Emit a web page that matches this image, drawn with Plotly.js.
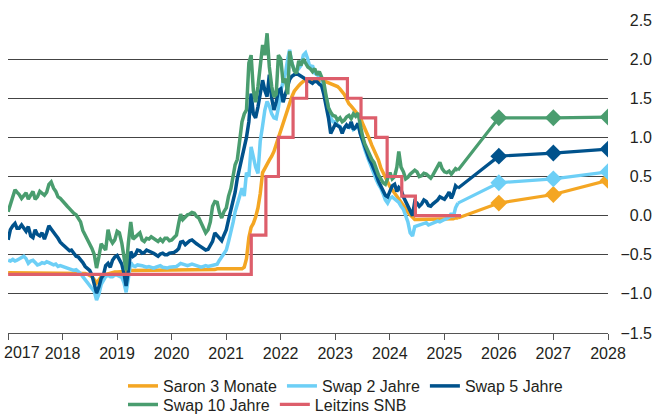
<!DOCTYPE html>
<html>
<head>
<meta charset="utf-8">
<script src="https://cdn.plot.ly/plotly-3.0.1.min.js"></script>
<style>
  html, body { margin: 0; padding: 0; background: #ffffff; }
  #chart { width: 652px; height: 414px; }
</style>
</head>
<body>
<div id="chart"></div>
<script>
// ---------- DATA ----------
// Semi-monthly observation dates (1st and 16th), Jan 2018 .. 1 Apr 2026
const histDates = [];
for (let y = 2018, m = 1; y < 2026 || (y === 2026 && m <= 3);) {
  const mm = String(m).padStart(2, '0');
  histDates.push(y + '-' + mm + '-01', y + '-' + mm + '-16');
  m++; if (m > 12) { m = 1; y++; }
}
histDates.push('2026-04-01');

// Saron 3 Monate (%), one row per year
const saron = [
  -0.73,-0.73,-0.73,-0.73,-0.73,-0.74,-0.74,-0.73,-0.73,-0.73,-0.73,-0.73,-0.73,-0.73,-0.73,-0.73,-0.73,-0.73,-0.73,-0.73,-0.73,-0.73,-0.73,-0.73,
  -0.73,-0.73,-0.73,-0.73,-0.73,-0.73,-0.73,-0.73,-0.73,-0.73,-0.74,-0.75,-0.76,-0.78,-0.82,-0.86,-0.82,-0.78,-0.76,-0.75,-0.74,-0.73,-0.73,-0.72,
  -0.72,-0.72,-0.71,-0.71,-0.72,-0.71,-0.70,-0.70,-0.70,-0.70,-0.70,-0.70,-0.70,-0.70,-0.70,-0.70,-0.69,-0.69,-0.69,-0.69,-0.70,-0.70,-0.70,-0.70,
  -0.70,-0.70,-0.70,-0.70,-0.70,-0.69,-0.69,-0.69,-0.69,-0.69,-0.69,-0.69,-0.69,-0.69,-0.69,-0.69,-0.69,-0.69,-0.69,-0.69,-0.68,-0.68,-0.69,-0.69,
  -0.69,-0.69,-0.69,-0.69,-0.69,-0.69,-0.69,-0.68,-0.66,-0.55,-0.28,-0.15,-0.10,-0.02,0.10,0.28,0.55,0.61,0.65,0.71,0.76,0.82,0.91,1.00,
  1.08,1.17,1.26,1.36,1.44,1.52,1.59,1.63,1.66,1.69,1.72,1.74,1.75,1.75,1.74,1.73,1.73,1.73,1.73,1.72,1.71,1.70,1.68,1.67,
  1.66,1.65,1.62,1.58,1.55,1.49,1.43,1.40,1.37,1.33,1.29,1.26,1.18,1.12,1.05,0.98,0.90,0.84,0.77,0.71,0.61,0.55,0.48,0.43,
  0.37,0.33,0.29,0.25,0.21,0.17,0.14,0.09,0.04,0.01,-0.03,-0.05,-0.05,-0.05,-0.05,-0.04,-0.04,-0.04,-0.04,-0.05,-0.05,-0.05,-0.05,-0.05,
  -0.05,-0.05,-0.05,-0.04,-0.04,-0.03,-0.03
];
// Swap 2 Jahre
const swap2 = [
  -0.57,-0.58,-0.56,-0.58,-0.57,-0.55,-0.54,-0.52,-0.55,-0.61,-0.58,-0.57,-0.60,-0.63,-0.62,-0.60,-0.61,-0.59,-0.60,-0.62,-0.63,-0.62,-0.65,-0.64,
  -0.65,-0.66,-0.67,-0.68,-0.69,-0.70,-0.69,-0.71,-0.74,-0.78,-0.82,-0.86,-0.88,-0.93,-0.97,-1.08,-1.00,-0.88,-0.82,-0.78,-0.76,-0.78,-0.78,-0.76,
  -0.76,-0.77,-0.79,-0.86,-0.98,-0.80,-0.60,-0.64,-0.65,-0.63,-0.63,-0.64,-0.65,-0.66,-0.65,-0.66,-0.67,-0.66,-0.65,-0.64,-0.66,-0.67,-0.67,-0.66,
  -0.66,-0.65,-0.65,-0.63,-0.61,-0.62,-0.63,-0.64,-0.63,-0.62,-0.63,-0.64,-0.65,-0.66,-0.65,-0.64,-0.65,-0.64,-0.64,-0.62,-0.62,-0.57,-0.53,-0.48,
  -0.44,-0.33,-0.22,-0.08,0.05,0.15,0.24,0.35,0.25,0.55,0.50,0.88,0.75,0.62,0.54,0.95,1.15,1.35,1.46,1.40,1.30,1.25,1.24,1.38,
  1.60,1.72,1.82,2.00,2.12,1.95,1.86,1.84,1.88,1.92,2.05,2.08,2.00,1.88,1.92,1.82,1.80,1.78,1.75,1.62,1.52,1.38,1.25,1.20,
  1.20,1.16,1.14,1.08,1.12,1.15,1.13,1.18,1.10,1.12,1.16,1.05,0.96,0.85,0.76,0.68,0.60,0.52,0.46,0.40,0.35,0.28,0.20,0.16,
  0.22,0.24,0.21,0.19,0.17,0.12,0.08,0.00,-0.08,-0.22,-0.26,-0.14,-0.13,-0.12,-0.11,-0.10,-0.09,-0.12,-0.11,-0.09,-0.08,-0.07,-0.08,-0.06,
  -0.05,-0.04,-0.02,0.03,-0.02,0.10,0.16
];
// Swap 5 Jahre
const swap5 = [
  -0.31,-0.18,-0.13,-0.10,-0.16,-0.16,-0.12,-0.17,-0.20,-0.14,-0.26,-0.28,-0.18,-0.24,-0.26,-0.22,-0.30,-0.22,-0.13,-0.17,-0.22,-0.25,-0.29,-0.34,
  -0.37,-0.40,-0.42,-0.45,-0.44,-0.48,-0.52,-0.53,-0.56,-0.60,-0.65,-0.68,-0.70,-0.76,-0.86,-0.99,-0.91,-0.80,-0.76,-0.64,-0.61,-0.66,-0.57,-0.53,
  -0.51,-0.56,-0.62,-0.74,-0.90,-0.70,-0.46,-0.52,-0.50,-0.44,-0.45,-0.48,-0.47,-0.44,-0.45,-0.47,-0.48,-0.50,-0.52,-0.49,-0.48,-0.50,-0.50,-0.48,
  -0.48,-0.47,-0.45,-0.42,-0.34,-0.33,-0.37,-0.34,-0.32,-0.31,-0.34,-0.36,-0.38,-0.40,-0.41,-0.44,-0.43,-0.37,-0.33,-0.22,-0.25,-0.28,-0.32,-0.25,
  -0.18,-0.05,0.08,0.20,0.30,0.48,0.62,0.72,0.85,1.00,1.20,1.56,1.30,1.25,1.39,1.55,1.73,1.60,1.52,1.80,1.50,1.35,1.45,1.60,
  1.62,1.45,1.55,1.65,1.74,1.78,1.80,1.82,1.80,1.78,1.76,1.74,1.72,1.70,1.69,1.72,1.71,1.68,1.66,1.55,1.40,1.25,1.05,1.12,
  1.17,1.15,1.13,1.05,1.12,1.16,1.12,1.20,1.10,1.13,1.18,1.05,0.97,0.86,0.78,0.72,0.66,0.60,0.52,0.44,0.38,0.32,0.26,0.24,
  0.33,0.38,0.40,0.31,0.36,0.33,0.24,0.18,0.12,0.04,0.00,0.18,0.16,0.12,0.15,0.20,0.18,0.13,0.12,0.15,0.17,0.20,0.24,0.22,
  0.21,0.25,0.30,0.22,0.28,0.38,0.35
];
// Swap 10 Jahre
const swap10 = [
  0.05,0.15,0.25,0.33,0.30,0.27,0.22,0.26,0.29,0.21,0.26,0.31,0.21,0.24,0.31,0.29,0.26,0.30,0.40,0.43,0.35,0.31,0.24,0.22,
  0.18,0.15,0.12,0.09,0.06,0.03,0.01,-0.03,-0.08,-0.19,-0.25,-0.31,-0.35,-0.42,-0.50,-0.67,-0.52,-0.36,-0.40,-0.44,-0.18,-0.30,-0.35,-0.31,
  -0.20,-0.22,-0.35,-0.55,-0.70,-0.35,-0.08,-0.30,-0.27,-0.24,-0.22,-0.31,-0.33,-0.29,-0.30,-0.27,-0.29,-0.31,-0.33,-0.30,-0.33,-0.29,-0.29,-0.32,
  -0.31,-0.28,-0.25,-0.10,0.02,-0.05,-0.02,0.01,0.02,0.04,0.03,-0.01,-0.03,-0.10,-0.16,-0.22,-0.18,-0.08,0.12,0.18,0.17,0.04,-0.03,0.05,
  0.10,0.25,0.35,0.55,0.65,0.72,1.00,1.20,1.30,1.35,1.95,2.05,1.60,1.45,1.65,1.90,2.18,2.05,2.33,1.90,1.65,1.52,1.55,2.05,
  2.00,1.70,1.75,1.55,2.10,1.95,1.85,1.82,1.98,1.92,2.00,1.95,1.90,1.88,1.84,1.88,1.80,1.84,1.76,1.70,1.52,1.38,1.32,1.28,
  1.27,1.22,1.25,1.20,1.22,1.26,1.28,1.24,1.30,1.27,1.31,1.15,1.02,0.92,0.85,0.78,0.72,0.68,0.60,0.52,0.47,0.42,0.40,0.48,
  0.55,0.47,0.50,0.62,0.82,0.62,0.56,0.47,0.49,0.53,0.55,0.58,0.56,0.50,0.51,0.54,0.53,0.50,0.48,0.52,0.57,0.62,0.68,0.60,
  0.56,0.55,0.57,0.53,0.56,0.60,0.58
];
// Leitzins SNB (step dates and levels)
const snbDates = ['2018-01-01','2022-06-17','2022-09-23','2022-12-16','2023-03-24','2023-06-23',
                  '2024-03-22','2024-06-21','2024-09-27','2024-12-13','2025-03-21','2025-06-20','2026-04-22'];
const snbRates = [-0.75,-0.25,0.50,1.00,1.50,1.75,1.50,1.25,1.00,0.50,0.25,0.00,0.00];

// Forecasts (year-end)
const fcDates  = ['2026-12-31','2027-12-31','2028-12-31'];
const saronFc  = [0.16, 0.27, 0.45];
const swap2Fc  = [0.42, 0.47, 0.56];
const swap5Fc  = [0.76, 0.80, 0.85];
const swap10Fc = [1.25, 1.25, 1.26];

// Axis ticks
const xTickVals = ['2017-12-31','2018-12-31','2019-12-31','2020-12-31','2021-12-31','2022-12-31',
                   '2023-12-31','2024-12-31','2025-12-31','2026-12-31','2027-12-31','2028-12-31'];
const xTickText = ['', '2018','2019','2020','2021','2022','2023','2024','2025','2026','2027','2028'];
const firstYearLabel = '2017';
const yTickVals = [-1.5,-1.0,-0.5,0.0,0.5,1.0,1.5,2.0,2.5];

// ---------- STYLE ----------
const C = { saron:'#F4A623', swap2:'#6DCFF6', swap5:'#00528C', swap10:'#4A9D6F', snb:'#DD5E6B' };
const LW = 3.5;
const FONT = '"Liberation Sans", Arial, sans-serif';
const FS = 16;
const TXT = '#231F20';

function histTrace(name, vals, color, legend) {
  return { type:'scatter', mode:'lines', name:name, x:histDates, y:vals,
           line:{color:color, width:LW}, legend:legend, hoverinfo:'skip' };
}
function fcTrace(vals, hist, color) {
  return { type:'scatter', mode:'lines+markers', showlegend:false,
           x:[histDates[histDates.length-1]].concat(fcDates),
           y:[hist[hist.length-1]].concat(vals),
           line:{color:color, width:3.2},
           marker:{symbol:'diamond', color:color, opacity:1, line:{width:0},
                   size:[0].concat(vals.map(function(){return 13;}))},
           hoverinfo:'skip' };
}

const traces = [
  histTrace('Saron 3 Monate', saron, C.saron, 'legend'),
  fcTrace(saronFc, saron, C.saron),
  histTrace('Swap 2 Jahre', swap2, C.swap2, 'legend'),
  fcTrace(swap2Fc, swap2, C.swap2),
  histTrace('Swap 5 Jahre', swap5, C.swap5, 'legend'),
  fcTrace(swap5Fc, swap5, C.swap5),
  histTrace('Swap 10 Jahre', swap10, C.swap10, 'legend2'),
  fcTrace(swap10Fc, swap10, C.swap10),
  { type:'scatter', mode:'lines', name:'Leitzins SNB', x:snbDates, y:snbRates,
    line:{color:C.snb, width:3.2, shape:'hv'}, legend:'legend2', hoverinfo:'skip' }
];

const legendBase = {
  orientation:'h', xref:'container', yref:'container', xanchor:'left', yanchor:'middle',
  x:123/652, font:{family:FONT, size:FS, color:TXT}, bgcolor:'rgba(0,0,0,0)',
  traceorder:'normal', borderwidth:0
};

const layout = {
  width:652, height:414,
  margin:{l:8, r:0, t:20, b:81, pad:0},
  paper_bgcolor:'#ffffff', plot_bgcolor:'#ffffff',
  font:{family:FONT, size:FS, color:TXT},
  showlegend:true,
  xaxis:{
    type:'date', domain:[0, 600/644], range:['2017-12-31','2028-12-31'],
    tickmode:'array', tickvals:xTickVals, ticktext:xTickText,
    ticks:'outside', ticklen:6, tickwidth:1, tickcolor:'#555',
    showline:true, linecolor:'#555', linewidth:1,
    showgrid:false, zeroline:false, tickfont:{family:FONT, size:FS, color:TXT}
  },
  yaxis:{
    side:'left', anchor:'free', position:1, range:[-1.5, 2.5],
    tickmode:'array', tickvals:yTickVals, tickformat:'.1f',
    ticks:'', showgrid:true, gridcolor:'#444', gridwidth:1,
    zeroline:false, showline:false, tickfont:{family:FONT, size:FS, color:TXT}
  },
  legend: Object.assign({}, legendBase, { y:(414-386)/414 }),
  legend2: Object.assign({}, legendBase, { y:(414-404.5)/414 }),
  annotations:[{
    text:firstYearLabel, xref:'x', x:'2017-12-31', xanchor:'left', xshift:-6,
    yref:'paper', y:0, yanchor:'middle', yshift:-19.5, showarrow:false,
    font:{family:FONT, size:FS, color:TXT}
  }]
};

Plotly.newPlot('chart', traces, layout, {displayModeBar:false, staticPlot:true});
</script>
</body>
</html>
